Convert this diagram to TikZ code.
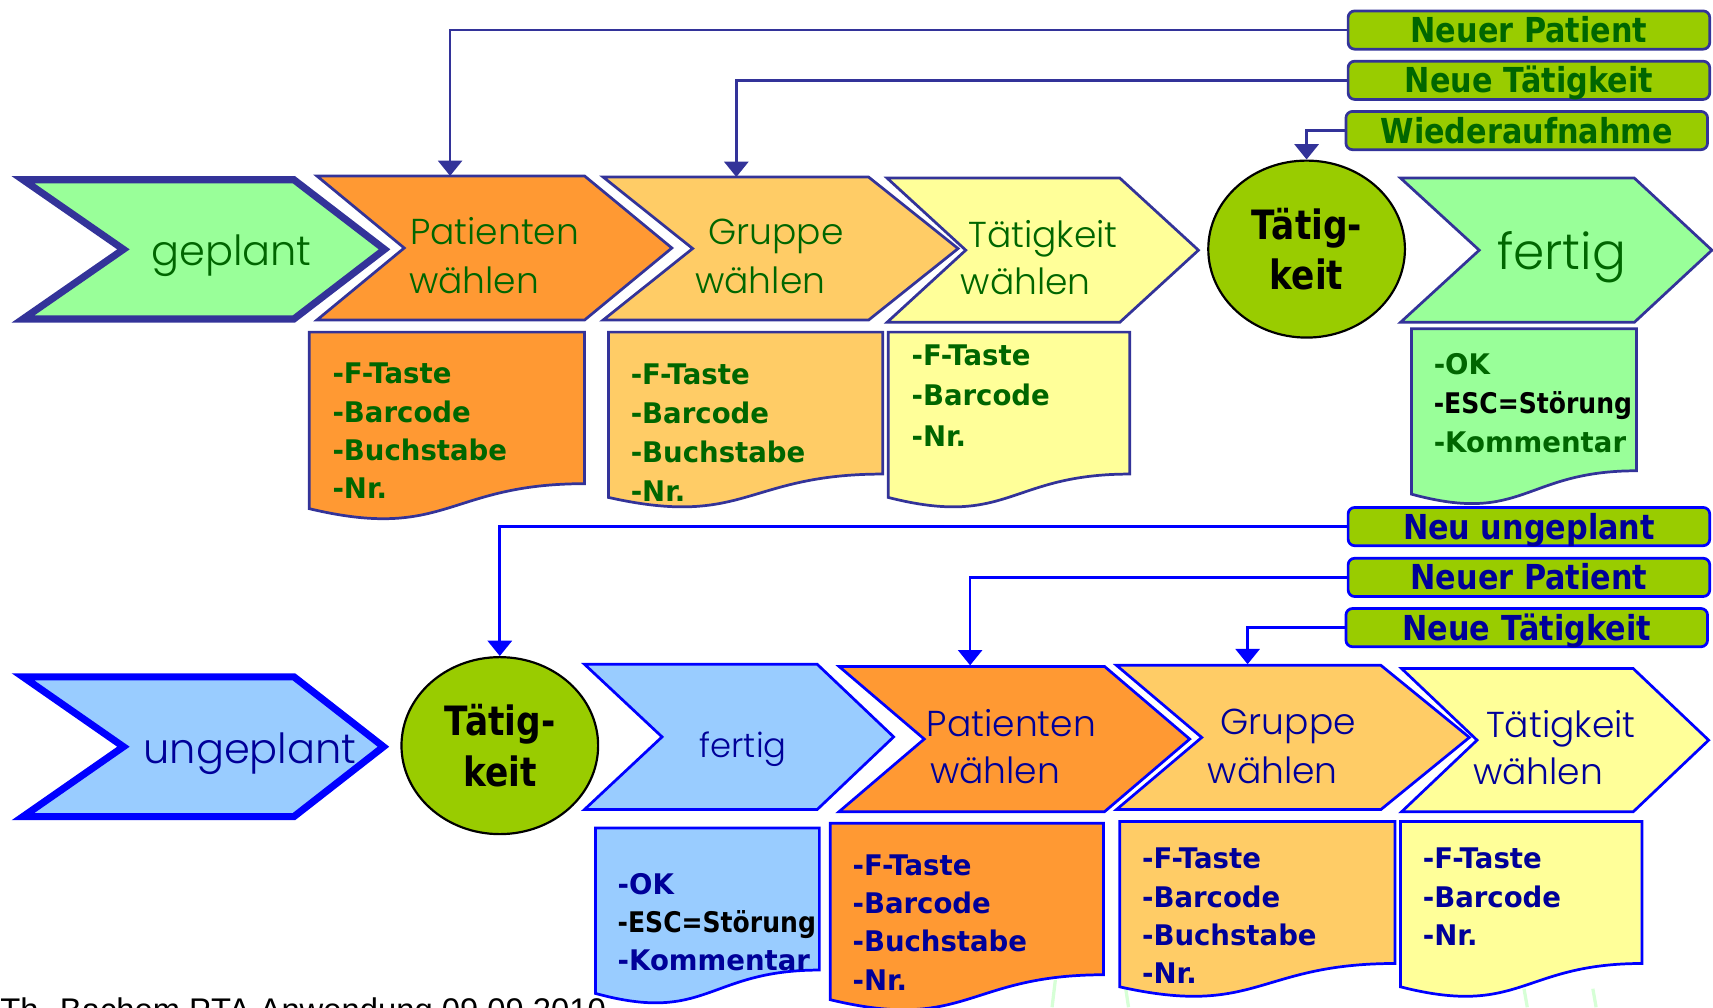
\documentclass[tikz,border=0pt]{standalone}
\usepackage{fontspec}
\usetikzlibrary{arrows.meta,shapes.geometric}
\newfontfamily\chevfont{Poppins Light}
\newfontfamily\listfont[FakeStretch=0.97]{DejaVu Sans}
\newfontfamily\labfont[FakeStretch=0.88]{DejaVu Sans}
\newfontfamily\circfont[FakeStretch=0.85]{DejaVu Sans}
\newfontfamily\footfont{Liberation Sans}
\definecolor{lgreen}{HTML}{99FF99}
\definecolor{orng}{HTML}{FF9933}
\definecolor{lorng}{HTML}{FFCC66}
\definecolor{lyel}{HTML}{FFFF99}
\definecolor{lblue}{HTML}{99CCFF}
\definecolor{olive}{HTML}{99CC00}
\definecolor{dkblue}{HTML}{333399}
\definecolor{bblue}{HTML}{0000FF}
\definecolor{txtG}{HTML}{006600}
\definecolor{txtB}{HTML}{000099}
\definecolor{faint}{HTML}{D6FFD6}
\newcommand\chev[7]{%
  \draw[#1] (#2,#6) -- (#4,#6) -- (#5,{(#6+#7)/2}) -- (#4,#7) -- (#2,#7) -- (#3,{(#6+#7)/2}) -- cycle;}
\newcommand\docu[5]{%
  \draw[#1] (#2,#4) -- (#3,#4) -- (#3,{#4+0.802*#5})
    .. controls ({(#2+#3)/2},{#4+0.802*#5}) and ({(#2+#3)/2},{#4+1.1075*#5}) .. (#2,{#4+0.934*#5}) -- cycle;}
\newcommand\esc{\textcolor{black}{\scalebox{0.91}[1]{-ESC=Störung}}}
\tikzset{
  chevA/.style={draw=dkblue, line width=1.25pt, line join=miter},
  chevB/.style={draw=bblue, line width=1.25pt, line join=miter},
  thickA/.style={draw=dkblue, line width=3.25pt, line join=miter},
  thickB/.style={draw=bblue, line width=3.25pt, line join=miter},
  ctxt/.style={anchor=base west, inner sep=0, font=\chevfont\fontsize{#1}{#1}\selectfont},
  ctxt/.default=16.5,
  listtxt/.style={anchor=north west, inner sep=0, align=left, font=\listfont\bfseries\fontsize{13}{#1}\selectfont},
  listtxt/.default=17.5,
  lab/.style={rectangle, rounded corners=3pt, fill=olive, line width=1.25pt,
    minimum width=165.5pt, minimum height=17.5pt, inner sep=0pt,
    text height=11.5pt, text depth=0pt, font=\labfont\bfseries\fontsize{15.75}{15.75}\selectfont},
  circ/.style={ellipse, fill=olive, draw=black, line width=1pt, minimum width=90pt,
    minimum height=81pt, inner sep=0pt, align=center,
    font=\circfont\bfseries\fontsize{18.5}{23}\selectfont},
  connA/.style={draw=dkblue, line width=1.25pt, -{Triangle[width=11pt,length=7pt]}},
  connB/.style={draw=bblue, line width=1.25pt, -{Triangle[width=11pt,length=7pt]}},
}
\begin{document}
\begin{tikzpicture}[x=0.5pt,y=-0.5pt]
\useasboundingbox (0,0) rectangle (1568,922);
% faint background strokes
\draw[faint, line width=1.5pt] (966,897) -- (963,922);
\draw[faint, line width=1.5pt] (1030,902) -- (1033,922);
\draw[faint, line width=1.5pt] (1395,905) -- (1398,922);
\draw[faint, line width=1.5pt] (1458,905) -- (1461,922);

% ===== top row chevrons =====
\chev{thickA,fill=lgreen}{21}{113}{269}{352}{164.5}{292}
\chev{chevA,fill=orng}{290}{370}{535}{615}{161}{293}
\chev{chevA,fill=lorng}{552}{634}{795}{877}{162}{293}
\chev{chevA,fill=lyel}{812}{884}{1025}{1097}{163}{295}
\chev{chevA,fill=lgreen}{1282}{1354}{1496}{1567}{163}{295}

\node[ctxt=19, text=txtG] (tgep) at (138,243) {geplant};
\node[ctxt, text=txtG] (tpat1) at (375,224) {Patienten};
\node[ctxt, text=txtG] (tpat2) at (374,269) {wählen};
\node[ctxt, text=txtG] (tgru1) at (648,224) {Gruppe};
\node[ctxt, text=txtG] (tgru2) at (636,269) {wählen};
\node[ctxt, text=txtG] (ttae1) at (886,227) {Tätigkeit};
\node[ctxt, text=txtG] (ttae2) at (879,270) {wählen};
\node[ctxt=23, text=txtG] (tfer) at (1370,247) {fertig};

\node[circ] (c1) at (1196,228) {Tätig-\\keit};

% documents top
\docu{chevA,fill=orng}{283}{535}{304}{173}
\docu{chevA,fill=lorng}{557}{808}{304}{162}
\docu{chevA,fill=lyel}{813}{1034}{304}{162}
\docu{chevA,fill=lgreen}{1292}{1498}{301}{162}

\node[listtxt, text=txtG] (l1) at (304,332) {-F-Taste\\-Barcode\\-Buchstabe\\-Nr.};
\node[listtxt=17.8, text=txtG] (l2) at (577,333) {-F-Taste\\-Barcode\\-Buchstabe\\-Nr.};
\node[listtxt=18.5, text=txtG] (l3) at (834,315) {-F-Taste\\-Barcode\\-Nr.};
\node[listtxt=17.8, text=txtG] (l4) at (1312,323) {-OK\\\esc\\-Kommentar};

% labels top
\node[lab, draw=dkblue, text=txtG] (lnp1) at (1399.5,27.5) {Neuer Patient};
\node[lab, draw=dkblue, text=txtG] (lnt1) at (1399.5,73.5) {Neue Tätigkeit};
\node[lab, draw=dkblue, text=txtG] (lwa) at (1397.5,119.5) {Wiederaufnahme};

\coordinate (tp1) at (412,161);
\coordinate (tg1) at (674,162);
\draw[connA] (lnp1.west) -| (tp1);
\draw[connA] (lnt1.west) -| (tg1);
\draw[connA] (lwa.west) -| (c1.north);

% ===== bottom row =====
\chev{thickB,fill=lblue}{21}{113}{269}{351}{619.5}{747.5}
\chev{chevB,fill=lblue}{535}{606}{748}{818}{608}{741}
\chev{chevB,fill=orng}{768}{846}{1011}{1089}{610}{743}
\chev{chevB,fill=lorng}{1022}{1100}{1264}{1345}{609}{741}
\chev{chevB,fill=lyel}{1283}{1352}{1495}{1564}{612}{743}

\node[ctxt=19, text=txtB] (tung) at (131,699) {ungeplant};
\node[circ] (c2) at (457.5,682.5) {Tätig-\\keit};
\node[ctxt=15.5, text=txtB] (tfer2) at (640,693) {fertig};
\node[ctxt, text=txtB] (bpat1) at (848,674) {Patienten};
\node[ctxt, text=txtB] (bpat2) at (851,717) {wählen};
\node[ctxt, text=txtB] (bgru1) at (1117,672) {Gruppe};
\node[ctxt, text=txtB] (bgru2) at (1105,717) {wählen};
\node[ctxt, text=txtB] (btae1) at (1360,675) {Tätigkeit};
\node[ctxt, text=txtB] (btae2) at (1348,718) {wählen};

\docu{chevB,fill=lblue}{545}{750}{758}{162}
\docu{chevB,fill=orng}{760}{1010}{753.5}{173}
\docu{chevB,fill=lorng}{1025}{1277}{752}{162}
\docu{chevB,fill=lyel}{1282}{1503}{752}{162}

\node[listtxt, text=txtB] (m1) at (565,799) {-OK\\\esc\\-Kommentar};
\node[listtxt, text=txtB] (m2) at (780,782) {-F-Taste\\-Barcode\\-Buchstabe\\-Nr.};
\node[listtxt, text=txtB] (m3) at (1045,776) {-F-Taste\\-Barcode\\-Buchstabe\\-Nr.};
\node[listtxt, text=txtB] (m4) at (1302,776) {-F-Taste\\-Barcode\\-Nr.};

\node[lab, draw=bblue, text=txtB] (lnu) at (1399.5,482) {Neu ungeplant};
\node[lab, draw=bblue, text=txtB] (lnp2) at (1399.5,528.5) {Neuer Patient};
\node[lab, draw=bblue, text=txtB] (lnt2) at (1397.5,574.5) {Neue Tätigkeit};

\coordinate (bp1) at (888,609);
\coordinate (bg1) at (1142,608);
\draw[connB] (lnu.west) -| (c2.north);
\draw[connB] (lnp2.west) -| (bp1);
\draw[connB] (lnt2.west) -| (bg1);

% footer (cut by page edge)
\node[anchor=base west, inner sep=0, font=\footfont\fontsize{15}{15}\selectfont] (foot) at (0,935) {Th. Bachem PTA Anwendung 09.09.2010};
\end{tikzpicture}
\end{document}
